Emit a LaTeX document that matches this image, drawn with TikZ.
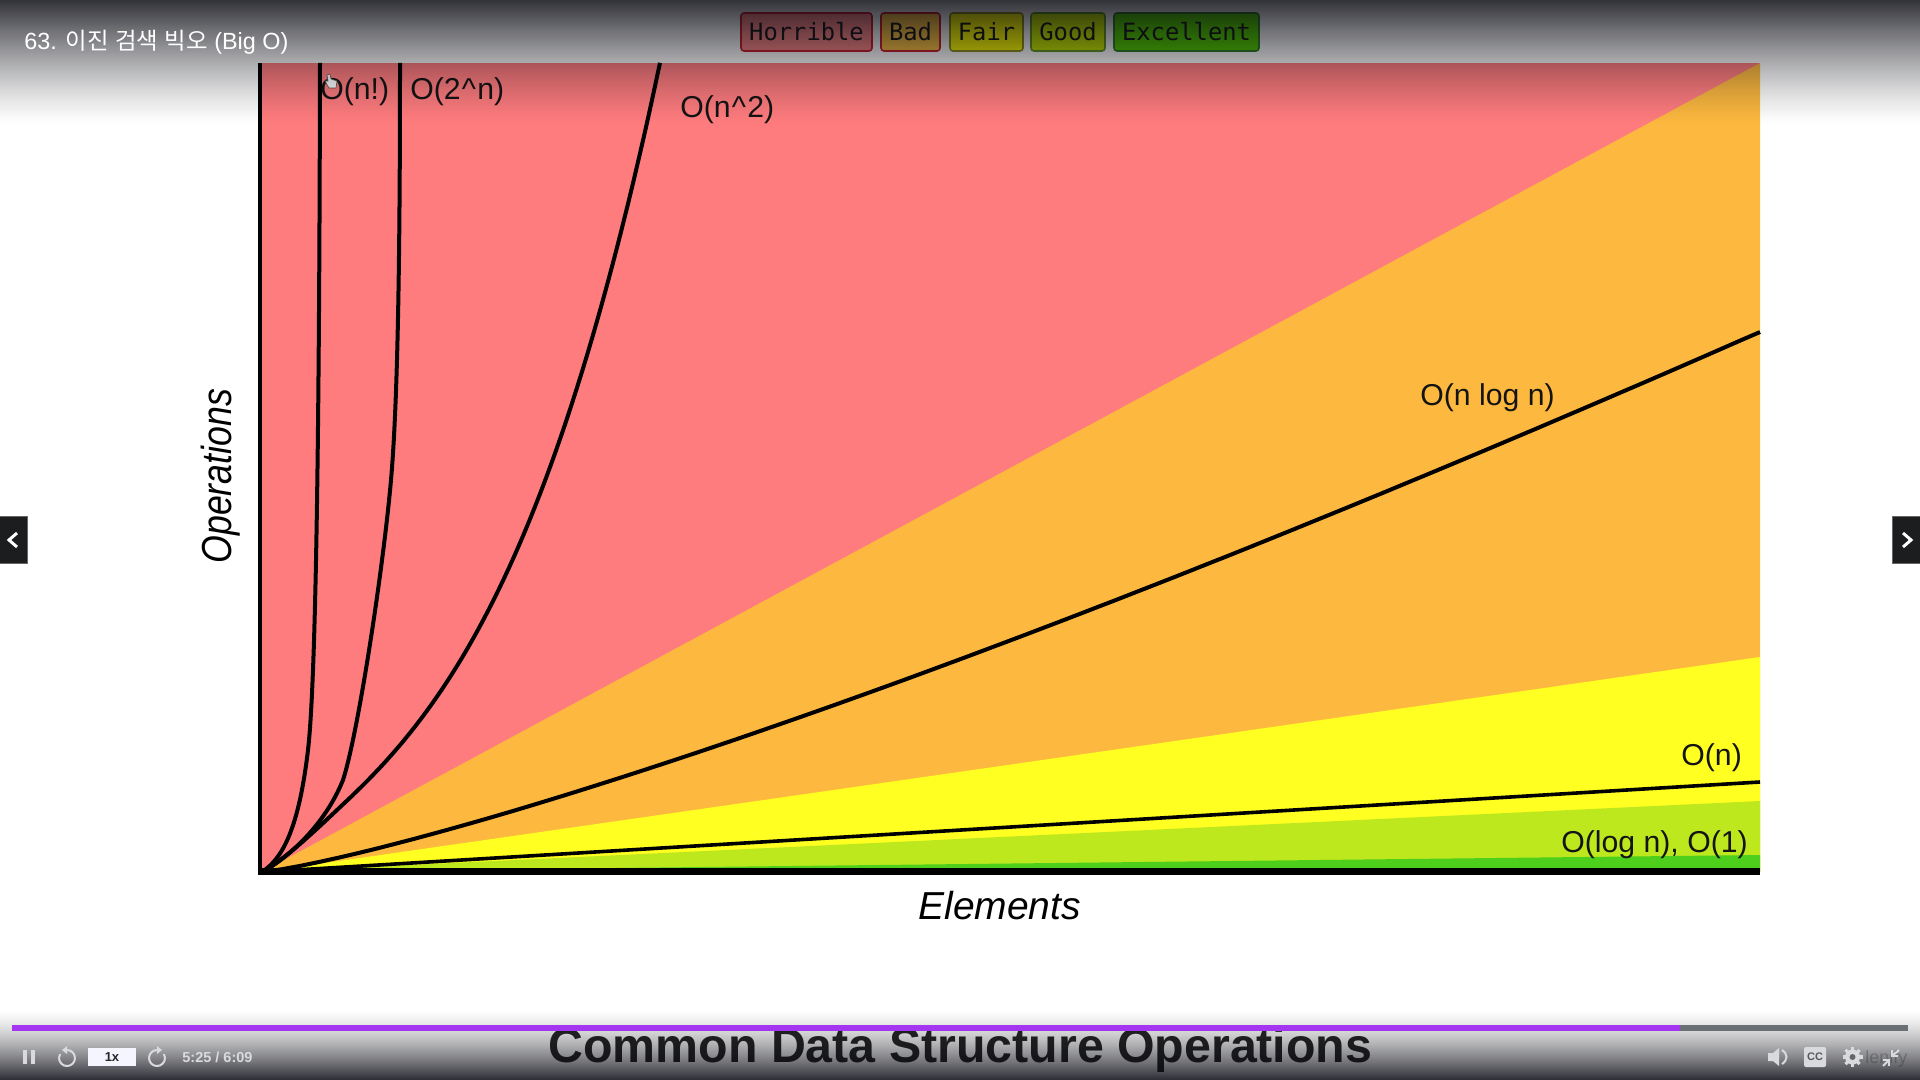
\documentclass[tikz,border=0pt]{standalone}
\usepackage{fontspec}
\setmainfont{Liberation Sans}
\newfontfamily\cjkfont{Noto Sans CJK KR}
\newfontfamily\monofont{DejaVu Sans Mono}
\definecolor{zonered}{HTML}{FF7C7E}
\definecolor{zoneorange}{HTML}{FDB93F}
\definecolor{zoneyellow}{HTML}{FFFF21}
\definecolor{zonelime}{HTML}{BDE81E}
\definecolor{zonegreen}{HTML}{4ECF1B}
\definecolor{darkband}{HTML}{05060E}
\definecolor{ctrl}{HTML}{D8DADE}
\definecolor{barpurple}{HTML}{A435F0}
\definecolor{bargrey}{HTML}{6A6F73}
\definecolor{navfill}{HTML}{1C1D1F}
\tikzset{
	lbl/.style={anchor=base west, inner sep=0pt, text=black!92, font=\fontsize{15.1}{15}\selectfont},
	badge/.style={rounded corners=1.5pt, line width=0.8pt, inner sep=0pt, minimum height=19pt, text=black!90, font=\fontsize{11.9}{12}\monofont},
	curve/.style={line width=2pt, line join=round},
	ctrlline/.style={draw=ctrl, line width=1pt},
}
\begin{document}
\begin{tikzpicture}[x=0.5pt, y=-0.5pt]
	\useasboundingbox (0, 0) rectangle (1920, 1080);
	%%%%% ZONES %%%%%
	\fill[zonered] (260, 63) rectangle (1760, 870);
	\fill[zoneorange] (262, 872) -- (1760, 63) -- (1760, 872) -- cycle;
	\fill[zoneyellow] (262, 872) -- (1760, 657) -- (1760, 872) -- cycle;
	\fill[zonelime] (262, 872) -- (1760, 801) -- (1760, 872) -- cycle;
	\fill[zonegreen] (262, 872) -- (1760, 855) -- (1760, 872) -- cycle;

	%%%%% CURVES %%%%%
	\draw[curve] (262, 872) .. controls (280, 860) and (298, 835) .. (308, 750) .. controls (318, 665) and (319.5, 300) .. (320, 63);
	\draw[curve] (262, 872) .. controls (288, 858) and (325, 825) .. (343, 780) .. controls (358, 734) and (383, 570) .. (391, 480) .. controls (398, 400) and (400, 250) .. (400, 63);
	\draw[curve] (262, 872) .. controls (288, 858) and (325, 821) .. (353, 795) -- plot[domain=91:398, samples=60] ({262+\x}, {872-0.8*\x-491*(\x/398)^3.2});
	\draw[curve] plot[domain=1:1498, samples=80] ({262+\x}, {872-539*exp(1.22*ln(\x)-8.9186)});
	\draw[line width=1.8pt] (262, 872) -- (1760, 782);

	%%%%% AXES %%%%%
	\fill[black] (258, 63) rectangle (262, 875);
	\fill[black] (258, 868) rectangle (1760, 875);

	%%%%% LABELS %%%%%
	\node[lbl] (lblfact) at (320, 100) {O(n!)};
	\node[lbl] (lblexp) at (410, 100) {O(2\kern.6pt\textasciicircum\kern.6pt n)};
	\node[lbl] (lblquad) at (680, 118) {O(n\kern.6pt\textasciicircum\kern.6pt 2)};
	\node[lbl] (lblnlogn) at (1420, 405) {O(n log n)};
	\node[lbl] (lbllin) at (1681, 765) {O(n)};
	\node[lbl] (lbllog) at (1561, 852) {O(log n), O(1)};
	\node[anchor=base west, inner sep=0pt, font=\fontsize{19.5}{20}\selectfont\itshape] (lblelem) at (918, 919) {Elements};
	\node[anchor=base west, inner sep=0pt, rotate=90] (lblops) at (231, 564) {\scalebox{.85}[1]{\fontsize{21}{21}\selectfont\itshape Operations}};

	%%%%% HAND CURSOR %%%%%
	\draw[fill=white, draw=black!65, line width=0.3pt, line join=round] (327, 75) -- (330, 74) -- (331, 79) -- (337, 81) -- (336, 88) -- (329, 88) -- (325, 81) -- (328, 81) -- cycle;

	%%%%% BADGES %%%%%
	\node[badge, draw={rgb,255:red,208;green,32;blue,48}, fill={rgb,255:red,255;green,137;blue,137}, minimum width=65.5pt] (badgehorrible) at (806.5, 32) {Horrible};
	\node[badge, draw={rgb,255:red,208;green,32;blue,48}, fill={rgb,255:red,255;green,197;blue,67}, minimum width=29.5pt] (badgebad) at (910.5, 32) {Bad};
	\node[badge, draw={rgb,255:red,147;green,147;blue,32}, fill={rgb,255:red,255;green,255;blue,0}, minimum width=36.5pt] (badgefair) at (986.5, 32) {Fair};
	\node[badge, draw={rgb,255:red,100;green,154;blue,37}, fill={rgb,255:red,200;green,234;blue,0}, minimum width=37pt] (badgegood) at (1068, 32) {Good};
	\node[badge, draw={rgb,255:red,51;green,128;blue,41}, fill={rgb,255:red,83;green,208;blue,0}, minimum width=72.5pt] (badgeexcellent) at (1186.5, 32) {Excellent};

	%%%%% COVERED TITLE AND WATERMARK %%%%%
	\node[anchor=base west, inner sep=0pt, text=black!85, font=\fontsize{24.15}{24}\selectfont\bfseries] (slidetitle) at (548, 1062) {Common Data Structure Operations};
	\node[anchor=base west, inner sep=0pt, text=black!22, font=\fontsize{9}{9}\selectfont] (watermark) at (1865, 1063) {lenify};

	%%%%% TOP AND BOTTOM BANDS %%%%%
	\foreach \yy in {0,...,124} {
		\pgfmathsetmacro\bandop{0.82*(1-\yy/125)^1.3}
		\fill[darkband, fill opacity=\bandop] (0, \yy) rectangle (1920, \yy+1);
	}
	\foreach \yy in {1010,...,1079} {
		\pgfmathsetmacro\bandop{0.83*((\yy+1-1010)/70)^1.4}
		\fill[darkband, fill opacity=\bandop] (0, \yy) rectangle (1920, \yy+1);
	}

	\node[anchor=base west, inner sep=0pt, text=white, font=\fontsize{11.7}{12}\selectfont] (lessontitle) at (24, 50) {63. {\cjkfont 이진} {\cjkfont 검색} {\cjkfont 빅오} (Big O)};

	%%%%% NAV BUTTONS %%%%%
	\draw[fill=navfill, draw=black!60, line width=0.5pt] (-2, 516) rectangle (27, 563);
	\draw[draw=white, line width=1.5pt] (17, 533) -- (9, 540) -- (17, 547);
	\draw[fill=navfill, draw=black!60, line width=0.5pt] (1922, 516) rectangle (1892, 563);
	\draw[draw=white, line width=1.5pt] (1903, 533) -- (1911, 540) -- (1903, 547);

	%%%%% PLAYER %%%%%
	\fill[bargrey] (12, 1025) rectangle (1908, 1031);
	\fill[barpurple] (12, 1025) rectangle (1680, 1031);

	\fill[ctrl] (23, 1050) rectangle (27, 1064);
	\fill[ctrl] (31, 1050) rectangle (35, 1064);

	\draw[ctrlline] (67, 1050) arc[start angle=-90, end angle=210, radius=8];
	\fill[ctrl] (67, 1046) -- (67, 1054) -- (62, 1050) -- cycle;
	\draw[ctrlline] (157, 1050) arc[start angle=-90, end angle=-390, radius=8];
	\fill[ctrl] (157, 1046) -- (157, 1054) -- (162, 1050) -- cycle;

	\node[fill=white!96!blue, inner sep=0pt, minimum width=24pt, minimum height=9pt, text=black!85, font=\fontsize{6.5}{7}\selectfont\bfseries] (speedbox) at (112, 1057) {1x};
	\node[anchor=base west, inner sep=0pt, text=ctrl, font=\fontsize{7.25}{8}\selectfont\bfseries] (timecode) at (182, 1062) {5:25 / 6:09};

	\fill[ctrl] (1768, 1053) -- (1773, 1053) -- (1779, 1048) -- (1779, 1066) -- (1773, 1061) -- (1768, 1061) -- cycle;
	\draw[ctrlline] (1782, 1050) .. controls (1788, 1054) and (1788, 1060) .. (1782, 1064);

	\node[fill=ctrl, rounded corners=1pt, inner sep=0pt, minimum width=11pt, minimum height=10pt, text=black!65, font=\fontsize{5.5}{6}\selectfont\bfseries] (ccbox) at (1815, 1057) {CC};

	\foreach \a in {0,45,...,315} {
		\draw[draw=ctrl, line width=1.6pt] (1852.5, 1057) -- ++({10*cos(\a)}, {10*sin(\a)});
	}
	\fill[ctrl] (1852.5, 1057) circle (7.5);
	\fill[black!60] (1852.5, 1057) circle (3);

	\draw[ctrlline] (1899, 1050) -- (1892, 1056);
	\draw[ctrlline] (1892, 1050) -- (1892, 1056) -- (1898, 1056);
	\draw[ctrlline] (1883, 1066) -- (1889, 1060);
	\draw[ctrlline] (1883, 1060) -- (1889, 1060) -- (1889, 1066);
\end{tikzpicture}
\end{document}
